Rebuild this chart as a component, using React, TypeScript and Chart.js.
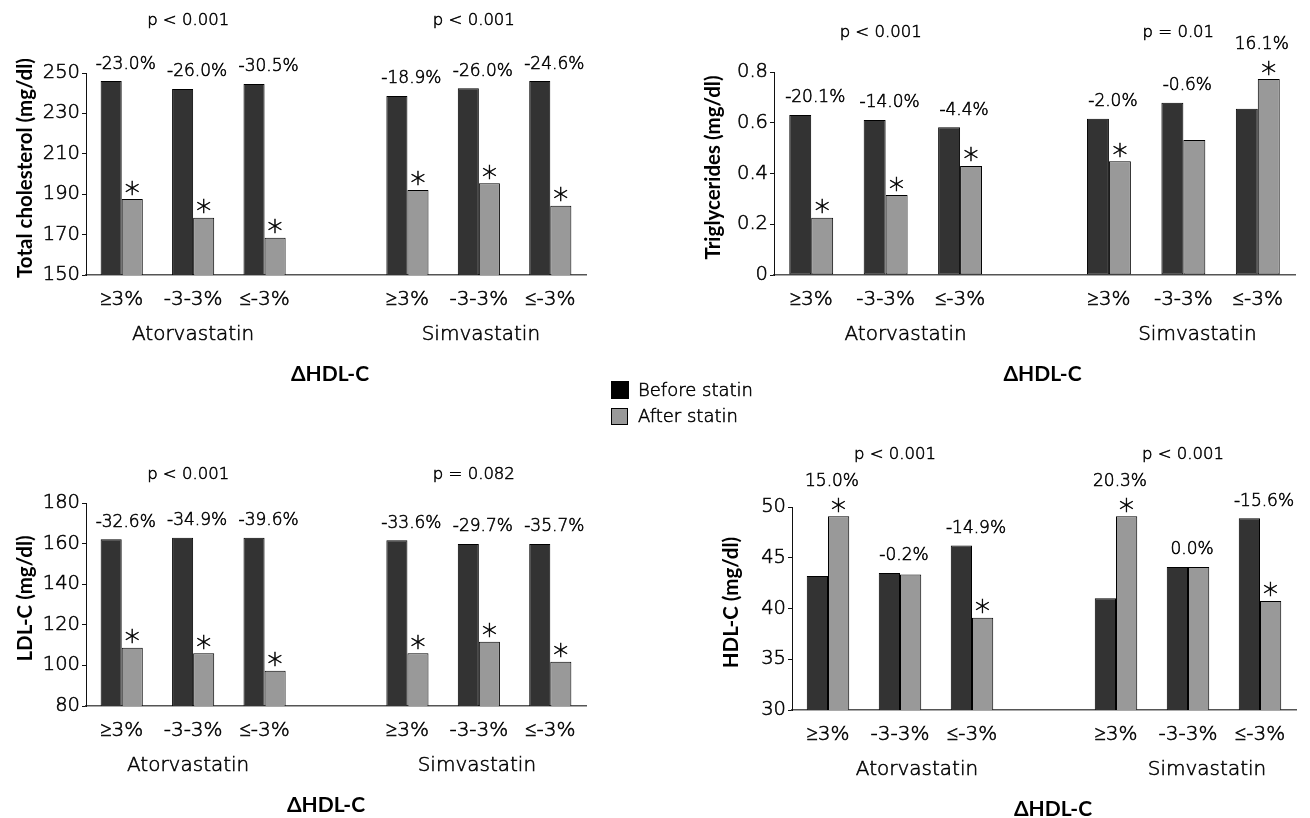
import React, { useEffect, useRef } from "react";
import { Chart, registerables } from "chart.js";
Chart.register(...registerables);

// ---------- data ----------
const categories = ["≥3%", "-3-3%", "≤-3%", "", "≥3%", "-3-3%", "≤-3%"];
const groupNames = ["Atorvastatin", "Simvastatin"];
const seriesNames = ["Before statin", "After statin"];
const xTitle = "ΔHDL-C";

const tcBefore = [246.0, 242.1, 244.6, null, 238.6, 242.4, 246.0];
const tcAfter = [187.6, 178.4, 168.5, null, 192.1, 195.4, 184.3];
const tcPct = ["-23.0%", "-26.0%", "-30.5%", "", "-18.9%", "-26.0%", "-24.6%"];
const tcStar = [true, true, true, false, true, true, true];
const tcP = ["p < 0.001", "p < 0.001"];

const tgBefore = [0.631, 0.611, 0.582, null, 0.616, 0.679, 0.655];
const tgAfter = [0.226, 0.315, 0.43, null, 0.448, 0.532, 0.772];
const tgPct = ["-20.1%", "-14.0%", "-4.4%", "", "-2.0%", "-0.6%", "16.1%"];
const tgStar = [true, true, true, false, true, false, true];
const tgP = ["p < 0.001", "p = 0.01"];

const ldlBefore = [162.1, 162.9, 162.9, null, 161.6, 159.8, 159.8];
const ldlAfter = [108.7, 106.0, 97.4, null, 106.0, 111.7, 101.8];
const ldlPct = ["-32.6%", "-34.9%", "-39.6%", "", "-33.6%", "-29.7%", "-35.7%"];
const ldlStar = [true, true, true, false, true, true, true];
const ldlP = ["p < 0.001", "p = 0.082"];

const hdlBefore = [43.2, 43.5, 46.2, null, 41.0, 44.1, 48.9];
const hdlAfter = [49.1, 43.35, 39.1, null, 49.1, 44.1, 40.75];
const hdlPct = ["15.0%", "-0.2%", "-14.9%", "", "20.3%", "0.0%", "-15.6%"];
const hdlStar = [true, false, true, false, true, false, true];
const hdlP = ["p < 0.001", "p < 0.001"];

// ---------- style ----------
const FAM = "'DejaVu Sans', 'Open Sans', sans-serif";
const BOLD_FAM = "Lato, 'DejaVu Sans', sans-serif";
const LIGHT = "200";
const STROKE = 0.55;
const DARK = "#333333";
const GRAY = "#999999";
const TEXT = "#000000";

type Panel = {
  yTitle: string;
  before: (number | null)[];
  after: (number | null)[];
  pct: string[];
  star: boolean[];
  p: string[];
  min: number;
  max: number;
  step: number;
  cx: number; cy: number; cw: number; ch: number;
  l: number; r: number; t: number; b: number;
  pOff: number;
  gShift: number[];
  dShift: number;
};

const panels: Panel[] = [
  { yTitle: "Total cholesterol (mg/dl)", before: tcBefore, after: tcAfter, pct: tcPct, star: tcStar, p: tcP,
    min: 150, max: 250, step: 20, cx: 0, cy: 0, cw: 650, ch: 410, l: 86, r: 586, t: 73, b: 275,
    pOff: 53, gShift: [0, 2], dShift: -6 },
  { yTitle: "Triglycerides (mg/dl)", before: tgBefore, after: tgAfter, pct: tgPct, star: tgStar, p: tgP,
    min: 0, max: 0.8, step: 0.2, cx: 650, cy: 0, cw: 660, ch: 410, l: 124, r: 645, t: 72, b: 275,
    pOff: 40, gShift: [20, 14], dShift: 8 },
  { yTitle: "LDL-C (mg/dl)", before: ldlBefore, after: ldlAfter, pct: ldlPct, star: ldlStar, p: ldlP,
    min: 80, max: 180, step: 20, cx: 0, cy: 410, cw: 650, ch: 408, l: 86, r: 586, t: 93, b: 296,
    pOff: 29, gShift: [-5, -2], dShift: -10 },
  { yTitle: "HDL-C (mg/dl)", before: hdlBefore, after: hdlAfter, pct: hdlPct, star: hdlStar, p: hdlP,
    min: 30, max: 50, step: 5, cx: 650, cy: 410, cw: 660, ch: 408, l: 142, r: 646, t: 97, b: 300,
    pOff: 53, gShift: [17, 19], dShift: 9 },
];

function lightText(ctx: CanvasRenderingContext2D, s: string, x: number, y: number) {
  ctx.fillText(s, x, y);
  ctx.lineWidth = STROKE;
  ctx.strokeStyle = TEXT;
  ctx.strokeText(s, x, y);
}

const annotPlugin = {
  id: "annot",
  afterDraw(chart: any, _args: any, opts: any) {
    const P: Panel = opts.panel;
    if (!P) return;
    const ctx = chart.ctx as CanvasRenderingContext2D;
    const xs = chart.scales.x;
    const ys = chart.scales.y;
    const area = chart.chartArea;
    const metaA = chart.getDatasetMeta(1);
    ctx.save();
    ctx.fillStyle = TEXT;
    ctx.textAlign = "center";

    for (let i = 0; i < categories.length; i++) {
      const b = P.before[i];
      const a = P.after[i];
      if (b == null || a == null) continue;
      const gx = xs.getPixelForValue(i);
      const topB = ys.getPixelForValue(b);
      const topA = ys.getPixelForValue(a);
      const barA = metaA.data[i];
      let labelY = Math.min(topA, topB) - 17;
      if (P.star[i]) {
        const sSize = 30;
        ctx.font = `${LIGHT} ${sSize}px ${FAM}`;
        ctx.textBaseline = "alphabetic";
        const starCenter = topA - 13;
        lightText(ctx, "*", barA.x, starCenter + 0.55 * sSize);
        if (topA <= topB) labelY = topA - 35;
      }
      ctx.font = `${LIGHT} 17px ${FAM}`;
      ctx.textBaseline = "middle";
      lightText(ctx, P.pct[i], gx + 4, labelY);
    }

    // p-values
    ctx.font = `${LIGHT} 16.5px ${FAM}`;
    ctx.textBaseline = "middle";
    [1, 5].forEach((idx, k) => {
      lightText(ctx, P.p[k], xs.getPixelForValue(idx) - 5, area.top - P.pOff + 1);
    });

    // group names
    ctx.font = `${LIGHT} 20px ${FAM}`;
    [1, 5].forEach((idx, k) => {
      lightText(ctx, groupNames[k], xs.getPixelForValue(idx) + P.gShift[k], area.bottom + 60);
    });

    // x title
    ctx.font = `bold 21px ${BOLD_FAM}`;
    ctx.fillText(xTitle, (area.left + area.right) / 2 + P.dShift, area.bottom + 99);

    // y title
    ctx.save();
    ctx.translate(area.left - 61, (area.top + area.bottom) / 2 - 6);
    ctx.rotate(-Math.PI / 2);
    ctx.font = `bold 20.5px ${BOLD_FAM}`;
    ctx.fillText(P.yTitle, 0, 0);
    ctx.restore();

    ctx.restore();
  },
};

function PanelChart({ P }: { P: Panel }) {
  const ref = useRef<HTMLCanvasElement>(null);
  useEffect(() => {
    if (!ref.current) return;
    const chart = new Chart(ref.current, {
      type: "bar",
      data: {
        labels: categories,
        datasets: [
          { label: seriesNames[0], data: P.before as any, backgroundColor: DARK, borderColor: "#000", borderWidth: 1, borderSkipped: false },
          { label: seriesNames[1], data: P.after as any, backgroundColor: GRAY, borderColor: "#000", borderWidth: 1, borderSkipped: false },
        ],
      },
      plugins: [annotPlugin as any],
      options: {
        responsive: false,
        maintainAspectRatio: false,
        devicePixelRatio: 1,
        animation: false,
        events: [],
        layout: { padding: { left: 0, right: P.cw - P.r, top: P.t, bottom: 0 } },
        datasets: { bar: { categoryPercentage: 0.59, barPercentage: 1.0 } },
        plugins: {
          legend: { display: false },
          tooltip: { enabled: false },
          annot: { panel: P },
        } as any,
        scales: {
          x: {
            type: "category",
            offset: true,
            grid: { display: false },
            border: { display: true, color: "#555", width: 1.5 },
            ticks: {
              color: TEXT, font: { family: FAM, size: 20, weight: LIGHT as any }, padding: 5,
              maxRotation: 0, autoSkip: false, textStrokeColor: TEXT, textStrokeWidth: STROKE,
            } as any,
            afterFit: (s: any) => { s.height = P.ch - P.b; },
          },
          y: {
            min: P.min,
            max: P.max,
            ticks: {
              stepSize: P.step, color: TEXT, font: { family: FAM, size: 19.5, weight: LIGHT as any }, padding: 2,
              textStrokeColor: TEXT, textStrokeWidth: STROKE,
            } as any,
            grid: { drawOnChartArea: false, tickLength: 4, color: "#111" },
            border: { display: true, color: "#111", width: 1 },
            afterFit: (s: any) => { s.width = P.l; },
          },
        },
      },
    });
    return () => chart.destroy();
  }, [P]);
  return (
    <canvas
      ref={ref}
      width={P.cw}
      height={P.ch}
      style={{ position: "absolute", left: P.cx, top: P.cy, width: P.cw, height: P.ch }}
    />
  );
}

export default function App() {
  const legendFont: React.CSSProperties = {
    position: "absolute",
    fontFamily: FAM,
    fontWeight: 200,
    fontSize: 18,
    color: TEXT,
    lineHeight: "20px",
    whiteSpace: "nowrap",
    WebkitTextStroke: `${STROKE}px ${TEXT}`,
  };
  return (
    <div style={{ position: "absolute", left: 0, top: 0, width: 1310, height: 818, background: "#fff", overflow: "hidden" }}>
      {panels.map((P, i) => (
        <PanelChart key={i} P={P} />
      ))}
      <div style={{ position: "absolute", left: 611, top: 381, width: 18, height: 18, background: "#000", zIndex: 2 }} />
      <div style={{ ...legendFont, left: 638, top: 380, zIndex: 2 }}>{seriesNames[0]}</div>
      <div style={{ position: "absolute", left: 611, top: 408, width: 15, height: 15, background: GRAY, border: "1.5px solid #000", zIndex: 2 }} />
      <div style={{ ...legendFont, left: 638, top: 406, zIndex: 2 }}>{seriesNames[1]}</div>
    </div>
  );
}
